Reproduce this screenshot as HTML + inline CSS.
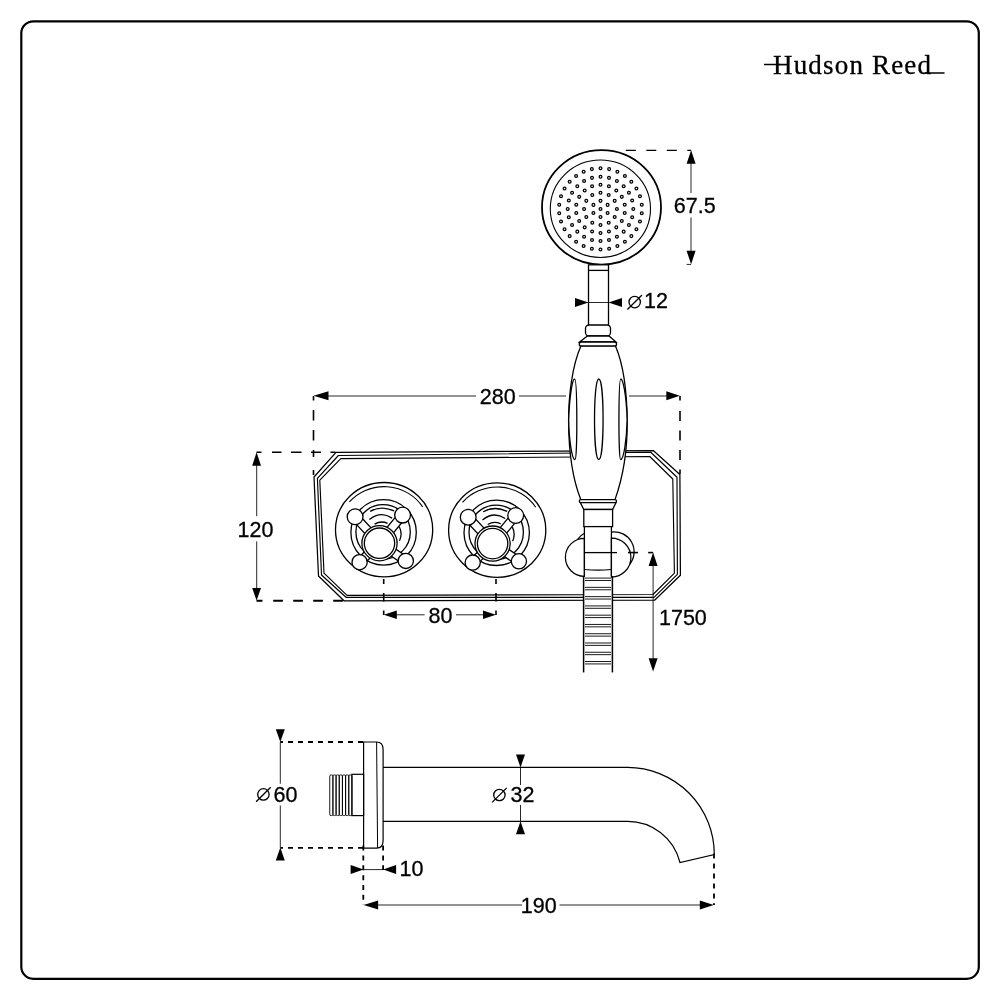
<!DOCTYPE html>
<html><head><meta charset="utf-8"><style>
html,body{margin:0;padding:0;background:#fff;}
svg{display:block;will-change:transform;}
text{font-family:"Liberation Sans",sans-serif;fill:#000;stroke:#000;stroke-width:0.3px;}
</style></head><body>
<svg width="1000" height="1000" viewBox="0 0 1000 1000">
<rect width="1000" height="1000" fill="#fff"/>
<rect x="21.3" y="21.3" width="957.5" height="957.5" rx="12" ry="12" fill="none" stroke="#000" stroke-width="2.2"/>
<text x="773" y="73.5" style="font-family:'Liberation Serif',serif" font-size="27" textLength="158" lengthAdjust="spacing">Hudson Reed</text>
<line x1="764" y1="64.5" x2="780" y2="64.5" stroke="#000" stroke-width="1.5"/>
<line x1="925" y1="73" x2="944.5" y2="73" stroke="#000" stroke-width="1.5"/>
<polygon points="336.00,452.30 653.25,450.50 679.90,474.50 680.40,575.30 654.60,600.20 344.00,600.80 318.50,576.00 314.00,477.00" fill="none" stroke="#000" stroke-width="1.25" stroke-linejoin="round"/>
<polygon points="338.40,455.50 650.75,452.25 677.00,477.25 677.40,574.40 654.00,597.30 346.00,597.30 321.50,575.00 317.40,478.40" fill="none" stroke="#000" stroke-width="1.15" stroke-linejoin="round"/>
<polygon points="340.80,458.60 649.75,456.50 672.80,479.00 674.40,573.20 653.00,594.50 347.00,595.40 324.00,573.20 319.80,480.20" fill="none" stroke="#000" stroke-width="1.15" stroke-linejoin="round"/>
<g fill="none" stroke="#000" stroke-width="1.3"><ellipse cx="384.10" cy="529.70" rx="48.6" ry="47.2"/><path d="M349.38,501.94 A46.00,44.60 0 0,1 422.68,506.91" stroke-width="1.1"/><circle cx="383.60" cy="532.40" r="32.7"/><circle cx="383.10" cy="531.90" r="27.2"/><path d="M370.10,511.40 Q381.10,505.10 394.10,510.90"/><path d="M369.40,519.50 Q380.60,510.50 392.10,518.10"/><path d="M374.60,524.10 Q381.10,520.30 387.60,523.40"/><path d="M399.26,526.74 A16.00,16.00 0 0,1 399.50,540.76"/></g><g fill="#fff" stroke="#000" stroke-width="1.3"><polygon points="382.58,540.35 358.18,513.95 352.02,519.65 376.42,546.05"/><polygon points="382.74,545.87 405.84,517.77 399.36,512.43 376.26,540.53"/><polygon points="376.60,540.16 356.70,559.16 362.50,565.24 382.40,546.24"/><polygon points="377.15,546.68 403.45,564.38 408.15,557.42 381.85,539.72"/><circle cx="355.10" cy="516.80" r="7.90"/><circle cx="402.60" cy="515.10" r="7.90"/><circle cx="359.60" cy="562.20" r="7.60"/><circle cx="405.80" cy="560.90" r="7.60"/><circle cx="379.50" cy="543.20" r="17.6"/><circle cx="379.50" cy="543.20" r="15.2"/></g>
<g fill="none" stroke="#000" stroke-width="1.3"><ellipse cx="497.20" cy="530.10" rx="48.6" ry="47.2"/><path d="M462.48,502.34 A46.00,44.60 0 0,1 535.78,507.31" stroke-width="1.1"/><circle cx="496.70" cy="532.80" r="32.7"/><circle cx="496.20" cy="532.30" r="27.2"/><path d="M483.20,511.80 Q494.20,505.50 507.20,511.30"/><path d="M482.50,519.90 Q493.70,510.90 505.20,518.50"/><path d="M487.70,524.50 Q494.20,520.70 500.70,523.80"/><path d="M512.36,527.14 A16.00,16.00 0 0,1 512.60,541.16"/></g><g fill="#fff" stroke="#000" stroke-width="1.3"><polygon points="495.68,540.75 471.28,514.35 465.12,520.05 489.52,546.45"/><polygon points="495.84,546.27 518.94,518.17 512.46,512.83 489.36,540.93"/><polygon points="489.70,540.56 469.80,559.56 475.60,565.64 495.50,546.64"/><polygon points="490.25,547.08 516.55,564.78 521.25,557.82 494.95,540.12"/><circle cx="468.20" cy="517.20" r="7.90"/><circle cx="515.70" cy="515.50" r="7.90"/><circle cx="472.70" cy="562.60" r="7.60"/><circle cx="518.90" cy="561.30" r="7.60"/><circle cx="492.60" cy="543.60" r="17.6"/><circle cx="492.60" cy="543.60" r="15.2"/></g>
<ellipse cx="601.5" cy="207.35" rx="59.5" ry="57.2" fill="#fff" stroke="#000" stroke-width="1.8"/>
<ellipse cx="600.4" cy="208.75" rx="50.1" ry="48.7" fill="none" stroke="#000" stroke-width="1.1"/>
<g fill="#fff" stroke="#000" stroke-width="1.25"><circle cx="600.50" cy="208.90" r="1.4"/><circle cx="600.50" cy="200.86" r="1.4"/><circle cx="593.40" cy="204.88" r="1.4"/><circle cx="593.40" cy="212.92" r="1.4"/><circle cx="600.50" cy="216.94" r="1.4"/><circle cx="607.60" cy="212.92" r="1.4"/><circle cx="607.60" cy="204.88" r="1.4"/><circle cx="600.50" cy="192.83" r="1.4"/><circle cx="592.30" cy="194.98" r="1.4"/><circle cx="586.30" cy="200.86" r="1.4"/><circle cx="584.10" cy="208.90" r="1.4"/><circle cx="586.30" cy="216.94" r="1.4"/><circle cx="592.30" cy="222.82" r="1.4"/><circle cx="600.50" cy="224.97" r="1.4"/><circle cx="608.70" cy="222.82" r="1.4"/><circle cx="614.70" cy="216.94" r="1.4"/><circle cx="616.90" cy="208.90" r="1.4"/><circle cx="614.70" cy="200.86" r="1.4"/><circle cx="608.70" cy="194.98" r="1.4"/><circle cx="600.50" cy="184.79" r="1.4"/><circle cx="592.09" cy="186.25" r="1.4"/><circle cx="584.69" cy="190.43" r="1.4"/><circle cx="579.20" cy="196.85" r="1.4"/><circle cx="576.27" cy="204.71" r="1.4"/><circle cx="576.27" cy="213.09" r="1.4"/><circle cx="579.20" cy="220.95" r="1.4"/><circle cx="584.69" cy="227.37" r="1.4"/><circle cx="592.09" cy="231.55" r="1.4"/><circle cx="600.50" cy="233.01" r="1.4"/><circle cx="608.91" cy="231.55" r="1.4"/><circle cx="616.31" cy="227.37" r="1.4"/><circle cx="621.80" cy="220.95" r="1.4"/><circle cx="624.73" cy="213.09" r="1.4"/><circle cx="624.73" cy="204.71" r="1.4"/><circle cx="621.80" cy="196.85" r="1.4"/><circle cx="616.31" cy="190.43" r="1.4"/><circle cx="608.91" cy="186.25" r="1.4"/><circle cx="600.50" cy="176.76" r="1.4"/><circle cx="592.01" cy="177.85" r="1.4"/><circle cx="584.10" cy="181.06" r="1.4"/><circle cx="577.31" cy="186.17" r="1.4"/><circle cx="572.09" cy="192.83" r="1.4"/><circle cx="568.82" cy="200.58" r="1.4"/><circle cx="567.70" cy="208.90" r="1.4"/><circle cx="568.82" cy="217.22" r="1.4"/><circle cx="572.09" cy="224.97" r="1.4"/><circle cx="577.31" cy="231.63" r="1.4"/><circle cx="584.10" cy="236.74" r="1.4"/><circle cx="592.01" cy="239.95" r="1.4"/><circle cx="600.50" cy="241.04" r="1.4"/><circle cx="608.99" cy="239.95" r="1.4"/><circle cx="616.90" cy="236.74" r="1.4"/><circle cx="623.69" cy="231.63" r="1.4"/><circle cx="628.91" cy="224.97" r="1.4"/><circle cx="632.18" cy="217.22" r="1.4"/><circle cx="633.30" cy="208.90" r="1.4"/><circle cx="632.18" cy="200.58" r="1.4"/><circle cx="628.91" cy="192.83" r="1.4"/><circle cx="623.69" cy="186.17" r="1.4"/><circle cx="616.90" cy="181.06" r="1.4"/><circle cx="608.99" cy="177.85" r="1.4"/><circle cx="600.50" cy="168.23" r="1.4"/><circle cx="591.87" cy="169.12" r="1.4"/><circle cx="583.62" cy="171.75" r="1.4"/><circle cx="576.11" cy="176.00" r="1.4"/><circle cx="569.66" cy="181.69" r="1.4"/><circle cx="564.56" cy="188.56" r="1.4"/><circle cx="561.03" cy="196.33" r="1.4"/><circle cx="559.23" cy="204.65" r="1.4"/><circle cx="559.23" cy="213.15" r="1.4"/><circle cx="561.03" cy="221.47" r="1.4"/><circle cx="564.56" cy="229.24" r="1.4"/><circle cx="569.66" cy="236.11" r="1.4"/><circle cx="576.11" cy="241.80" r="1.4"/><circle cx="583.62" cy="246.05" r="1.4"/><circle cx="591.87" cy="248.68" r="1.4"/><circle cx="600.50" cy="249.57" r="1.4"/><circle cx="609.13" cy="248.68" r="1.4"/><circle cx="617.38" cy="246.05" r="1.4"/><circle cx="624.89" cy="241.80" r="1.4"/><circle cx="631.34" cy="236.11" r="1.4"/><circle cx="636.44" cy="229.24" r="1.4"/><circle cx="639.97" cy="221.47" r="1.4"/><circle cx="641.77" cy="213.15" r="1.4"/><circle cx="641.77" cy="204.65" r="1.4"/><circle cx="639.97" cy="196.33" r="1.4"/><circle cx="636.44" cy="188.56" r="1.4"/><circle cx="631.34" cy="181.69" r="1.4"/><circle cx="624.89" cy="176.00" r="1.4"/><circle cx="617.38" cy="171.75" r="1.4"/><circle cx="609.13" cy="169.12" r="1.4"/></g>
<g fill="#fff" stroke="#000" stroke-width="1.3">
<rect x="588.5" y="264.8" width="20" height="61"/>
<line x1="588.5" y1="270.4" x2="608.5" y2="270.4"/>
<rect x="585.5" y="325" width="25" height="11" rx="3.5"/>
<polygon points="587.5,336 609,336 616,342 579.5,342"/>
<rect x="579.3" y="342" width="37.2" height="4.2" rx="2"/>
<path d="M580.8,346.2 C572.5,365 568.4,395 568.6,422 C568.8,455 573,480 580.8,499.6 L615,499.6 C622,480 627.4,455 627.2,422 C627,392 623.5,365 615.6,346.2 Z"/>
<path d="M598.8,379 C604.5,379 604.5,459.6 598.8,459.6 C593.1,459.6 593.1,379 598.8,379 Z"/>
<path d="M574.6,379 C577.4,379 577.6,459.6 575,459.6 C572,459.6 569,440 568.7,420 C569.5,395 572.5,379 574.6,379 Z"/>
<path d="M620.8,379 C618.4,379 618.3,459.6 620.6,459.6 C623.6,459.6 626.8,440 627.1,420 C626.5,395 623,379 620.8,379 Z"/>
<rect x="579.3" y="499.6" width="37.2" height="3" rx="1.5"/>
<polygon points="580.3,502.6 616,502.6 612.6,509.5 583.8,509.5"/>
<rect x="583.8" y="509.5" width="28.8" height="17.1"/>
</g>
<rect x="583.6" y="576" width="28.6" height="96.4" fill="#fff"/>
<g fill="#fff" stroke="#000" stroke-width="1.25">
<path d="M611.4,532.1 A19.9,19.9 0 0,1 629.7,564.3" fill="none"/>
<path d="M584.4,533.3 A20,20 0 0,0 577.6,539.3" fill="none"/>
<path d="M584.4,538.3 A19,19 0 0,0 584.4,576.3 Z"/>
<path d="M611.4,538 A19.5,19.5 0 0,1 611.4,577 Z"/>
</g>
<g fill="none" stroke="#000" stroke-width="1.25">
<path d="M584.4,526.6 L584.4,576 M611.4,526.6 L611.4,576"/>
<path d="M584.4,569.5 Q598,570.8 611.4,569.5"/>
<line x1="583.6" y1="576" x2="583.6" y2="672.4" stroke-width="1.5"/>
<line x1="612.4" y1="576" x2="612.4" y2="672.4" stroke-width="1.5"/>
</g>
<g stroke="#000" stroke-width="0.9"><line x1="585" y1="578.10" x2="611" y2="578.10"/><line x1="585" y1="580.50" x2="611" y2="580.50"/><line x1="585" y1="587.37" x2="611" y2="587.37"/><line x1="585" y1="589.77" x2="611" y2="589.77"/><line x1="585" y1="596.64" x2="611" y2="596.64"/><line x1="585" y1="599.04" x2="611" y2="599.04"/><line x1="585" y1="605.91" x2="611" y2="605.91"/><line x1="585" y1="608.31" x2="611" y2="608.31"/><line x1="585" y1="615.18" x2="611" y2="615.18"/><line x1="585" y1="617.58" x2="611" y2="617.58"/><line x1="585" y1="624.45" x2="611" y2="624.45"/><line x1="585" y1="626.85" x2="611" y2="626.85"/><line x1="585" y1="633.72" x2="611" y2="633.72"/><line x1="585" y1="636.12" x2="611" y2="636.12"/><line x1="585" y1="642.99" x2="611" y2="642.99"/><line x1="585" y1="645.39" x2="611" y2="645.39"/><line x1="585" y1="652.26" x2="611" y2="652.26"/><line x1="585" y1="654.66" x2="611" y2="654.66"/><line x1="585" y1="661.53" x2="611" y2="661.53"/><line x1="585" y1="663.93" x2="611" y2="663.93"/></g>
<line x1="585" y1="552.6" x2="611" y2="552.6" stroke="#000" stroke-width="1.3"/>
<line x1="611" y1="552.6" x2="617" y2="552.6" stroke="#000" stroke-width="1.3"/>
<line x1="628" y1="552.6" x2="638" y2="552.6" stroke="#000" stroke-width="1.6"/>
<line x1="625.80" y1="150.30" x2="691.10" y2="150.30" stroke="#000" stroke-width="1.30" stroke-dasharray="10 10.5" stroke-dashoffset="0.00"/>
<line x1="686.60" y1="264.40" x2="691.10" y2="264.40" stroke="#000" stroke-width="0.85"/>
<polygon points="691.10,150.20 686.60,163.70 695.60,163.70" fill="#000"/>
<polygon points="691.10,264.30 686.60,250.80 695.60,250.80" fill="#000"/>
<line x1="691.00" y1="160.00" x2="691.00" y2="193.00" stroke="#000" stroke-width="0.85"/>
<line x1="691.00" y1="217.40" x2="691.00" y2="255.00" stroke="#000" stroke-width="0.85"/>
<text x="694.70" y="212.90" font-size="21.5" text-anchor="middle">67.5</text>
<polygon points="588.50,302.50 575.00,298.00 575.00,307.00" fill="#000"/>
<polygon points="608.50,302.50 622.00,298.00 622.00,307.00" fill="#000"/>
<line x1="588.50" y1="302.50" x2="608.50" y2="302.50" stroke="#000" stroke-width="0.85"/>
<circle cx="634.70" cy="302.10" r="5.70" fill="none" stroke="#000" stroke-width="1.3"/>
<line x1="627.40" y1="309.50" x2="642.00" y2="295.00" stroke="#000" stroke-width="1.3"/>
<text x="644.00" y="308.10" font-size="21.5" text-anchor="start">12</text>
<polygon points="313.50,395.80 328.50,391.30 328.50,400.30" fill="#000"/>
<polygon points="679.80,395.80 666.30,391.30 666.30,400.30" fill="#000"/>
<line x1="327.00" y1="396.00" x2="476.00" y2="396.00" stroke="#000" stroke-width="0.85"/>
<line x1="519.00" y1="396.00" x2="566.00" y2="396.00" stroke="#000" stroke-width="0.85"/>
<line x1="629.00" y1="396.00" x2="667.00" y2="396.00" stroke="#000" stroke-width="0.85"/>
<text x="497.70" y="403.80" font-size="21.5" text-anchor="middle">280</text>
<line x1="313.50" y1="396.00" x2="313.50" y2="477.00" stroke="#000" stroke-width="1.60" stroke-dasharray="4.5 9.5 10.5 9.5 10.5 9.5 7 13 5" stroke-dashoffset="0.00"/>
<line x1="680.00" y1="396.00" x2="680.00" y2="474.00" stroke="#000" stroke-width="1.60" stroke-dasharray="4.5 10.5 10 9.5 10 9.5 10 9.5 5" stroke-dashoffset="0.00"/>
<line x1="256.50" y1="452.20" x2="336.00" y2="452.20" stroke="#000" stroke-width="1.60" stroke-dasharray="5 10.5 9.5 9.5 10.5 9.5 10 9.5 5 30" stroke-dashoffset="0.00"/>
<line x1="256.50" y1="600.80" x2="344.00" y2="600.80" stroke="#000" stroke-width="2.00" stroke-dasharray="6 10.7 9.7 10.3 9.7 10.3 9.7 10.3 9.7 20" stroke-dashoffset="0.00"/>
<polygon points="256.60,452.20 252.20,465.70 261.00,465.70" fill="#000"/>
<polygon points="256.60,600.60 252.20,588.10 261.00,588.10" fill="#000"/>
<line x1="256.70" y1="460.00" x2="256.70" y2="516.20" stroke="#000" stroke-width="0.85"/>
<line x1="256.70" y1="541.40" x2="256.70" y2="590.00" stroke="#000" stroke-width="0.85"/>
<text x="255.50" y="536.60" font-size="21.5" text-anchor="middle">120</text>
<line x1="383.70" y1="579.00" x2="383.70" y2="615.00" stroke="#000" stroke-width="1.60" stroke-dasharray="5 9 8.5 9.1 5" stroke-dashoffset="0.00"/>
<line x1="496.00" y1="579.00" x2="496.00" y2="615.00" stroke="#000" stroke-width="1.60" stroke-dasharray="5 9 8.5 9.1 5" stroke-dashoffset="0.00"/>
<polygon points="383.80,614.80 396.80,610.55 396.80,619.05" fill="#000"/>
<polygon points="496.00,614.80 483.00,610.55 483.00,619.05" fill="#000"/>
<line x1="396.00" y1="614.80" x2="424.60" y2="614.80" stroke="#000" stroke-width="0.85"/>
<line x1="456.00" y1="614.80" x2="483.00" y2="614.80" stroke="#000" stroke-width="0.85"/>
<text x="440.40" y="622.50" font-size="21.5" text-anchor="middle">80</text>
<line x1="648.20" y1="552.60" x2="653.10" y2="552.60" stroke="#000" stroke-width="1.60"/>
<polygon points="653.10,552.60 648.60,565.90 657.60,565.90" fill="#000"/>
<polygon points="653.10,671.60 648.60,658.30 657.60,658.30" fill="#000"/>
<line x1="653.10" y1="560.00" x2="653.10" y2="665.00" stroke="#000" stroke-width="0.85"/>
<text x="659.00" y="625.40" font-size="21.5" text-anchor="start">1750</text>
<g fill="none" stroke="#000" stroke-width="1.2">
<rect x="329.75" y="774.9" width="3.17" height="40.7" rx="1.3" stroke-width="0.9"/>
<rect x="332.92" y="774.9" width="3.17" height="40.7" rx="1.3" stroke-width="0.9"/>
<rect x="336.09" y="774.9" width="3.17" height="40.7" rx="1.3" stroke-width="0.9"/>
<rect x="339.26" y="774.9" width="3.17" height="40.7" rx="1.3" stroke-width="0.9"/>
<rect x="342.43" y="774.9" width="3.17" height="40.7" rx="1.3" stroke-width="0.9"/>
<rect x="345.60" y="774.9" width="3.17" height="40.7" rx="1.3" stroke-width="0.9"/>
<rect x="348.77" y="774.9" width="3.17" height="40.7" rx="1.3" stroke-width="0.9"/>
<rect x="351.9" y="774.3" width="11.7" height="41.3"/>
<path d="M363.6,742 L376.6,742 Q383.1,742 383.1,749.5 L383.1,840.5 Q383.1,848.1 376.6,848.1 L363.6,848.1 Z"/>
<line x1="376.6" y1="742" x2="377.6" y2="848.1" stroke-width="1"/>
<path d="M383.1,767.4 L627.5,767.4 A87,87 0 0,1 714.3,854.6 L680,862.5 A54,54 0 0,0 626.3,821.3 L383.1,821.3"/>
</g>
<line x1="280.30" y1="742.00" x2="363.60" y2="742.00" stroke="#000" stroke-width="1.80" stroke-dasharray="5 5" stroke-dashoffset="2.30"/>
<line x1="280.30" y1="847.80" x2="363.60" y2="847.80" stroke="#000" stroke-width="1.80" stroke-dasharray="5 5" stroke-dashoffset="2.30"/>
<polygon points="280.30,742.00 275.80,729.20 284.80,729.20" fill="#000"/>
<polygon points="280.30,847.60 275.80,860.60 284.80,860.60" fill="#000"/>
<line x1="280.30" y1="742.00" x2="280.30" y2="783.70" stroke="#000" stroke-width="0.85"/>
<line x1="280.30" y1="805.50" x2="280.30" y2="847.60" stroke="#000" stroke-width="0.85"/>
<circle cx="263.40" cy="794.40" r="5.70" fill="none" stroke="#000" stroke-width="1.3"/>
<line x1="256.10" y1="801.80" x2="270.70" y2="787.30" stroke="#000" stroke-width="1.3"/>
<text x="285.50" y="801.70" font-size="21.5" text-anchor="middle">60</text>
<line x1="363.30" y1="845.60" x2="363.30" y2="905.00" stroke="#000" stroke-width="1.80" stroke-dasharray="5 4.85" stroke-dashoffset="0.00"/>
<line x1="383.10" y1="845.60" x2="383.10" y2="870.00" stroke="#000" stroke-width="1.80" stroke-dasharray="5 4.85" stroke-dashoffset="0.00"/>
<polygon points="363.60,869.60 350.60,865.10 350.60,874.10" fill="#000"/>
<polygon points="383.10,869.60 396.10,865.10 396.10,874.10" fill="#000"/>
<line x1="363.60" y1="869.60" x2="383.10" y2="869.60" stroke="#000" stroke-width="0.85"/>
<text x="399.50" y="876.30" font-size="21.5" text-anchor="start">10</text>
<polygon points="363.60,905.00 378.10,900.50 378.10,909.50" fill="#000"/>
<polygon points="713.80,905.00 699.80,900.50 699.80,909.50" fill="#000"/>
<line x1="376.00" y1="905.00" x2="522.00" y2="905.00" stroke="#000" stroke-width="0.85"/>
<line x1="559.50" y1="905.00" x2="700.00" y2="905.00" stroke="#000" stroke-width="0.85"/>
<text x="538.80" y="912.80" font-size="21.5" text-anchor="middle">190</text>
<line x1="714.00" y1="853.60" x2="714.00" y2="905.00" stroke="#000" stroke-width="1.80" stroke-dasharray="5 4.95" stroke-dashoffset="0.00"/>
<polygon points="520.50,767.40 516.00,754.40 525.00,754.40" fill="#000"/>
<polygon points="520.50,821.30 516.00,834.30 525.00,834.30" fill="#000"/>
<line x1="520.50" y1="767.40" x2="520.50" y2="785.00" stroke="#000" stroke-width="0.85"/>
<line x1="520.50" y1="805.00" x2="520.50" y2="821.30" stroke="#000" stroke-width="0.85"/>
<circle cx="499.40" cy="795.00" r="5.70" fill="none" stroke="#000" stroke-width="1.3"/>
<line x1="492.10" y1="802.40" x2="506.70" y2="787.90" stroke="#000" stroke-width="1.3"/>
<text x="522.50" y="802.00" font-size="21.5" text-anchor="middle">32</text>
</svg></body></html>
